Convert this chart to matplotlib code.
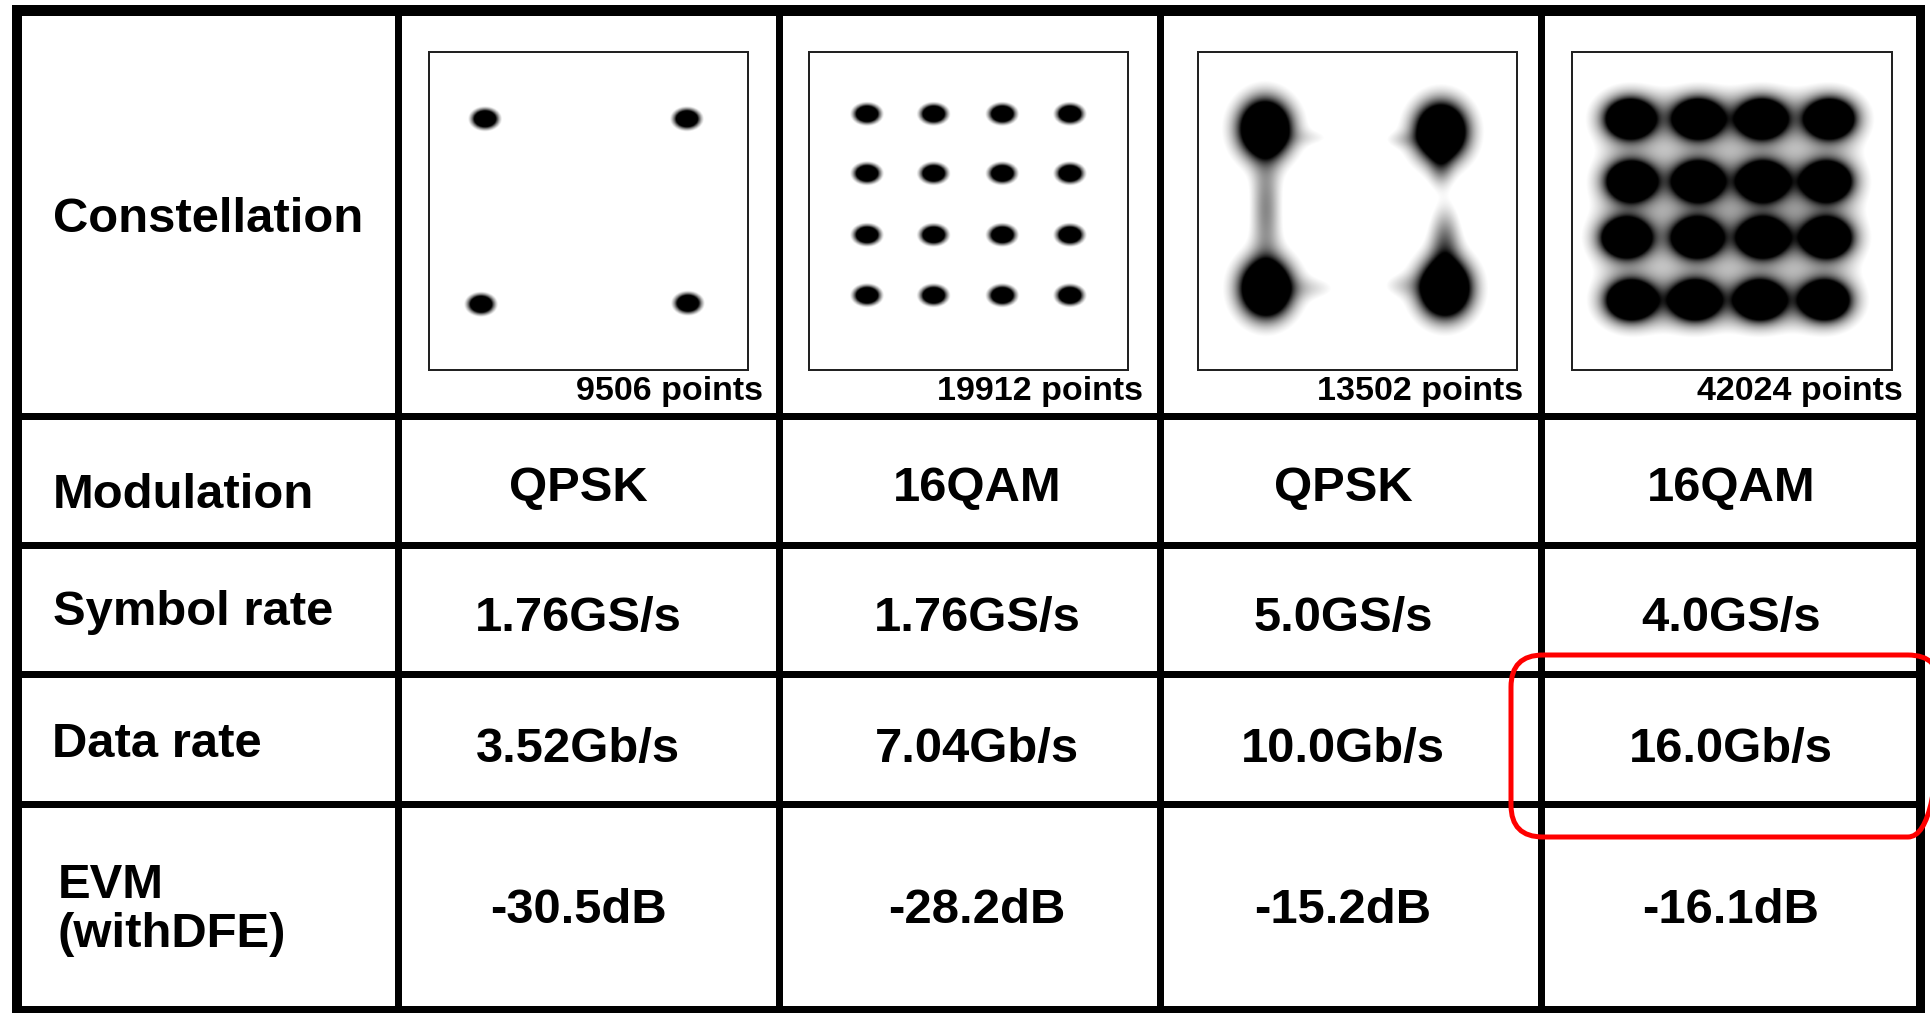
import numpy as np
import matplotlib
matplotlib.use("Agg")
import matplotlib.pyplot as plt
from matplotlib.patches import Rectangle, FancyBboxPatch

# ---------------------------------------------------------------- table text
row_labels = ["Constellation", "Modulation", "Symbol rate", "Data rate", "EVM", "(withDFE)"]
point_counts = [9506, 19912, 13502, 42024]
modulation = ["QPSK", "16QAM", "QPSK", "16QAM"]
symbol_rate = ["1.76GS/s", "1.76GS/s", "5.0GS/s", "4.0GS/s"]
data_rate = ["3.52Gb/s", "7.04Gb/s", "10.0Gb/s", "16.0Gb/s"]
evm_db = ["-30.5", "-28.2", "-15.2", "-16.1"]

# ------------------------------------------------- constellation cluster data
# QPSK, 1.76 GS/s : measured cluster centres (I, Q)
qpsk_a_i = [-1.04, 0.99, -1.08, 1.00]
qpsk_a_q = [0.93, 0.93, -0.94, -0.93]
# 16QAM, 1.76 GS/s : column / row centres
qam_a_i = [-1.02, -0.35, 0.34, 1.02]
qam_a_q = [0.98, 0.38, -0.24, -0.85]
# QPSK, 5.0 GS/s
qpsk_b_i = [-0.93, 0.84, -0.92, 0.88]
qpsk_b_q = [0.83, 0.80, -0.78, -0.78]
# scattered trails between the 5.0 GS/s QPSK clusters
trail_i = [-0.92, 0.84, 0.88, -0.45, 0.45, -0.45, 0.45]
trail_q = [0.02, 0.45, -0.33, -0.78, -0.75, 0.74, 0.72]
trail_si = [0.10, 0.08, 0.10, 0.20, 0.15, 0.18, 0.14]
trail_sq = [0.40, 0.14, 0.25, 0.08, 0.08, 0.06, 0.06]
trail_w = [0.20, 0.14, 0.22, 0.07, 0.07, 0.05, 0.06]
# 16QAM, 4.0 GS/s : one row of I centres per Q level
qam_b_q = [0.93, 0.30, -0.27, -0.90]
qam_b_i = [[-1.02, -0.34, 0.30, 0.98],
           [-1.01, -0.34, 0.31, 0.95],
           [-1.06, -0.35, 0.31, 0.95],
           [-1.01, -0.37, 0.28, 0.93]]

# cluster spreads (sigma_I, sigma_Q) and halo (sigma_I, sigma_Q, weight)
spread = [(0.08, 0.06), (0.08, 0.058), (0.15, 0.17), (0.13, 0.105)]
halo = [None, None, (0.26, 0.28, 0.15), (0.24, 0.20, 0.28)]

# ------------------------------------------------------------------- layout
W, H, DPI = 1930, 1013, 100
PT = 72.0 / DPI
FONT = "Liberation Sans"

fig = plt.figure(figsize=(W / DPI, H / DPI), dpi=DPI)
fig.patch.set_facecolor("white")
ax = fig.add_axes([0, 0, 1, 1])
ax.set_xlim(0, W)
ax.set_ylim(H, 0)
ax.axis("off")

col_div = [398, 779, 1160, 1541]
row_div = [416, 545, 674, 804]
LW = 7


def bar(x0, y0, x1, y1):
    ax.add_patch(Rectangle((x0, y0), x1 - x0, y1 - y0, fc="black", ec="none", zorder=3))


for x in col_div:
    bar(x - LW / 2, 5, x + LW / 2, H)
for y in row_div:
    bar(12, y - LW / 2, 1925, y + LW / 2)
# outer frame
bar(12, 5, 22, H)
bar(1916, 5, 1925, H)
bar(12, 5, 1925, 16)
bar(12, 1006, 1925, H)

# row headers
big = 49 * PT
hdr_base = [232, 508, 625, 757, 898, 947]
hdr_x = [53, 53, 53, 52, 58, 57]
for lab, xb, yb in zip(row_labels, hdr_x, hdr_base):
    ax.text(xb, yb, lab, ha="left", va="baseline", fontsize=big,
            fontweight="bold", family=FONT, zorder=4)

# value cells
val_x = [578, 977, 1343, 1731]
rows = [modulation, symbol_rate, data_rate, [v + "dB" for v in evm_db]]
val_base = [501, 631, 762, 923]
for vals, yb in zip(rows, val_base):
    for xc, v in zip(val_x, vals):
        ax.text(xc, yb, v, ha="center", va="baseline", fontsize=big,
                fontweight="bold", family=FONT, zorder=4)

# "N points" captions
cap_right = [763, 1143, 1523, 1903]
for xr, n in zip(cap_right, point_counts):
    ax.text(xr, 400, f"{n} points", ha="right", va="baseline",
            fontsize=34 * PT, fontweight="bold", family=FONT, zorder=4)

# highlighted cell
ax.add_patch(FancyBboxPatch((1511, 655), 429, 182,
                            boxstyle="round,pad=0,rounding_size=32",
                            fc="none", ec="#ff0000", lw=5 * PT, zorder=5))

# ------------------------------------------------------- constellation plots
box_x = [(429, 748), (809, 1128), (1198, 1517), (1572, 1892)]
box_y = (52, 370)
LIM = 1.6


def components(k):
    sx, sy = spread[k]
    comps = []
    if k == 0:
        pts = list(zip(qpsk_a_i, qpsk_a_q))
    elif k == 1:
        pts = [(i, q) for q in qam_a_q for i in qam_a_i]
    elif k == 2:
        pts = list(zip(qpsk_b_i, qpsk_b_q))
    else:
        pts = [(i, q) for q, irow in zip(qam_b_q, qam_b_i) for i in irow]
    for i, q in pts:
        comps.append((i, q, sx, sy, 1.0))
        if halo[k] is not None:
            hx, hy, hw = halo[k]
            comps.append((i, q, hx, hy, hw))
    if k == 2:
        comps += list(zip(trail_i, trail_q, trail_si, trail_sq, trail_w))
    return comps


g = np.linspace(-LIM, LIM, 420)
GX, GY = np.meshgrid(g, g)
levels = [(0.10, 0.40), (0.10, 0.40), (0.05, 0.38), (0.05, 0.35)]

for k, (x0, x1) in enumerate(box_x):
    y0, y1 = box_y
    pax = fig.add_axes([x0 / W, 1 - y1 / H, (x1 - x0) / W, (y1 - y0) / H])
    dens = np.zeros_like(GX)
    for ci, cq, si, sq, w in components(k):
        dens += w * np.exp(-0.5 * (((GX - ci) / si) ** 2 + ((GY - cq) / sq) ** 2))
    lo, hi = levels[k]
    alpha = np.clip((dens - lo) / (hi - lo), 0, 1)
    rgba = np.zeros(GX.shape + (4,))
    rgba[..., 3] = alpha
    pax.imshow(rgba, extent=(-LIM, LIM, -LIM, LIM), origin="lower",
               interpolation="bilinear", aspect="auto")
    pax.set_xlim(-LIM, LIM)
    pax.set_ylim(-LIM, LIM)
    pax.set_xticks([])
    pax.set_yticks([])
    for s in pax.spines.values():
        s.set_linewidth(2 * PT)
        s.set_color("#222222")

fig.savefig("out.png", dpi=DPI, facecolor="white")
